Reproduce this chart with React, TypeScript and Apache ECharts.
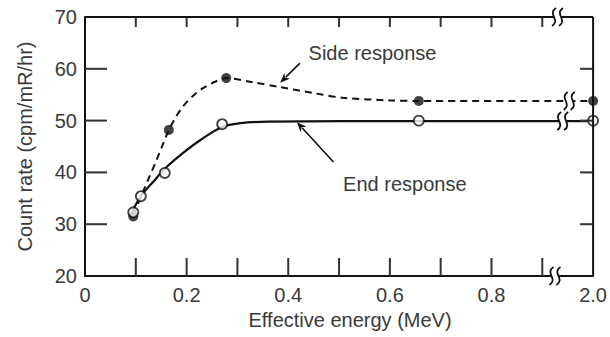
import React, { useEffect, useRef } from 'react';
import * as echarts from 'echarts';

// Measured points (energy in MeV, count rate in cpm/mR/hr)
const sideEnergy = [0.095, 0.165, 0.278, 0.657, 2.0];
const sideRate = [31.5, 48.2, 58.2, 53.8, 53.8];
const endEnergy = [0.095, 0.11, 0.157, 0.27, 0.657, 2.0];
const endRate = [32.3, 35.4, 39.9, 49.3, 50.0, 50.0];

// Hand-drawn curves
const sideCurveEnergy = [0.095, 0.113, 0.126, 0.14, 0.152, 0.165, 0.18, 0.195, 0.214, 0.233, 0.256, 0.278, 0.33, 0.382, 0.45, 0.508, 0.6, 0.657, 2.0];
const sideCurveRate = [31.8, 36.0, 39.0, 42.2, 45.1, 48.2, 50.9, 53.0, 54.9, 56.3, 57.5, 58.2, 57.4, 56.5, 55.3, 54.4, 53.9, 53.8, 53.8];
const endCurveEnergy = [0.09, 0.11, 0.137, 0.158, 0.195, 0.228, 0.271, 0.306, 0.36, 0.657, 2.0];
const endCurveRate = [31.8, 35.4, 38.5, 40.8, 43.9, 46.3, 48.8, 49.5, 49.8, 49.9, 49.9];

const xTickLabels = ['0', '0.2', '0.4', '0.6', '0.8', '2.0'];
const xMinorTicks = [0.1, 0.2, 0.3, 0.4, 0.5, 0.6, 0.7, 0.8, 0.9];
const yTicks = [20, 30, 40, 50, 60, 70];

const seriesNames = ['Side response', 'End response'];
const xTitle = 'Effective energy (MeV)';
const yTitle = 'Count rate (cpm/mR/hr)';

// axis break: everything beyond 1.0 MeV is drawn at the broken end of the axis
const axisPos = (e: number) => (e > 1 ? 1 : e);

const FONT = "'Liberation Sans', Arial, sans-serif";
const TEXT = '#3a3a3a';
const INK = '#111111';
const TICK = '#333333';

export default function App() {
  const ref = useRef<HTMLDivElement>(null);

  useEffect(() => {
    if (!ref.current) return;
    const chart = echarts.init(ref.current, undefined, { renderer: 'svg' });

    const pair = (xs: number[], ys: number[]) => xs.map((x, i) => [axisPos(x), ys[i]]);
    const yMin = yTicks[0];
    const yMax = yTicks[yTicks.length - 1];
    const innerY = yTicks.slice(1, -1);

    // tick data: [x, y, side]; side 0 bottom, 1 top, 2 left, 3 right
    const tickData: number[][] = [];
    xMinorTicks.forEach((t) => {
      tickData.push([t, yMin, 0]);
      tickData.push([t, yMax, 1]);
    });
    innerY.forEach((t) => {
      tickData.push([0, t, 2]);
      tickData.push([1, t, 3]);
    });
    const tickLen = [18, 10, 22, 13];

    chart.setOption({
      animation: false,
      grid: { left: 85, right: 13, top: 17, bottom: 61 },
      xAxis: {
        type: 'value',
        min: 0,
        max: 1,
        interval: 0.2,
        axisLine: { show: true, lineStyle: { color: INK, width: 2 } },
        axisTick: { show: false },
        splitLine: { show: false },
        axisLabel: {
          margin: 9,
          color: TEXT,
          fontFamily: FONT,
          fontSize: 20,
          formatter: (v: number) => xTickLabels[Math.round(v * 5)],
        },
        name: xTitle,
        nameLocation: 'middle',
        nameGap: 33,
        nameTextStyle: { color: TEXT, fontFamily: FONT, fontSize: 20, padding: [0, 0, 0, 22] },
      },
      yAxis: {
        type: 'value',
        min: yMin,
        max: yMax,
        interval: 10,
        axisLine: { show: true, lineStyle: { color: INK, width: 2 } },
        axisTick: { show: false },
        splitLine: { show: false },
        axisLabel: { margin: 8, color: TEXT, fontFamily: FONT, fontSize: 20, padding: [6, 0, 0, 0] },
        name: yTitle,
        nameLocation: 'middle',
        nameGap: 50,
        nameTextStyle: { color: TEXT, fontFamily: FONT, fontSize: 20 },
      },
      series: [
        {
          name: 'ticks',
          type: 'custom',
          data: tickData,
          clip: false,
          silent: true,
          z: 30,
          renderItem: (params: any, api: any) => {
            const x = api.value(0);
            const y = api.value(1);
            const side = api.value(2);
            const p = api.coord([x, y]);
            const L = tickLen[side];
            let x2 = p[0], y2 = p[1];
            if (side === 0) y2 = p[1] - L;
            else if (side === 1) y2 = p[1] + L;
            else if (side === 2) x2 = p[0] + L;
            else x2 = p[0] - L;
            return {
              type: 'line',
              shape: { x1: p[0], y1: p[1], x2, y2 },
              style: { stroke: TICK, lineWidth: 2 },
            };
          },
        },
        {
          name: seriesNames[0] + ' curve',
          type: 'line',
          data: pair(sideCurveEnergy, sideCurveRate),
          smooth: 0.3,
          showSymbol: false,
          symbol: 'none',
          lineStyle: { color: INK, width: 2, type: [7, 5] },
          z: 2,
        },
        {
          name: seriesNames[1] + ' curve',
          type: 'line',
          data: pair(endCurveEnergy, endCurveRate),
          smooth: 0.35,
          showSymbol: false,
          symbol: 'none',
          lineStyle: { color: INK, width: 2.2 },
          z: 2,
        },
        {
          name: seriesNames[0],
          type: 'scatter',
          data: pair(sideEnergy, sideRate),
          symbol: 'circle',
          symbolSize: 10,
          itemStyle: { color: INK },
          z: 4,
        },
        {
          name: seriesNames[1],
          type: 'scatter',
          data: pair(endEnergy, endRate),
          symbol: 'circle',
          symbolSize: 10,
          itemStyle: { color: '#ffffff', borderColor: INK, borderWidth: 1.8 },
          z: 5,
        },
      ],
    });

    const px = (x: number, y: number) => chart.convertToPixel({ gridIndex: 0 }, [x, y]) as number[];
    const g: any[] = [];

    // frame: top and right sides
    const [lx, ty] = px(0, yMax);
    const [rx, by] = px(1, yMin);
    g.push({ type: 'line', shape: { x1: lx, y1: ty, x2: rx, y2: ty }, style: { stroke: INK, lineWidth: 2 }, z: 50 });
    g.push({ type: 'line', shape: { x1: rx, y1: ty, x2: rx, y2: by }, style: { stroke: INK, lineWidth: 2 }, z: 50 });

    // axis-break marks
    const breaks = [
      [0.93, 70],
      [0.925, 20],
      [0.953, 53.8],
      [0.94, 49.9],
    ];
    breaks.forEach(([bx, bY]) => {
      const [cx, cy] = px(bx, bY);
      g.push({ type: 'rect', shape: { x: cx - 3.5, y: cy - 3, width: 7, height: 6 }, style: { fill: '#ffffff' }, z: 60 });
      [-3.5, 3.5].forEach((dx) => {
        const x = cx + dx;
        g.push({
          type: 'bezierCurve',
          shape: { x1: x + 2, y1: cy - 9, cpx1: x - 7, cpy1: cy - 3, cpx2: x + 7, cpy2: cy + 3, x2: x - 2, y2: cy + 9 },
          style: { stroke: INK, lineWidth: 1.8, fill: 'none' },
          z: 61,
        });
      });
    });

    // annotations
    const annotations = [
      { text: seriesNames[0], at: [0.44, 63.1], from: [0.423, 61.1], to: [0.384, 57.3] },
      { text: seriesNames[1], at: [0.508, 37.7], from: [0.489, 42.0], to: [0.417, 49.7] },
    ];
    annotations.forEach((a) => {
      const [tx, tY] = px(a.at[0], a.at[1]);
      g.push({
        type: 'text',
        x: tx,
        y: tY,
        style: { text: a.text, fill: TEXT, font: `20px ${FONT}`, textAlign: 'left', textVerticalAlign: 'middle' },
        z: 50,
      });
      const [x1, y1] = px(a.from[0], a.from[1]);
      const [x2, y2] = px(a.to[0], a.to[1]);
      const dx = x2 - x1, dy = y2 - y1;
      const len = Math.hypot(dx, dy);
      const ux = dx / len, uy = dy / len;
      const hl = 10, hw = 4;
      const bx = x2 - ux * hl, bY = y2 - uy * hl;
      g.push({ type: 'line', shape: { x1, y1, x2: bx + ux * 2, y2: bY + uy * 2 }, style: { stroke: INK, lineWidth: 1.6 }, z: 50 });
      g.push({
        type: 'polygon',
        shape: {
          points: [
            [x2, y2],
            [bx - uy * hw, bY + ux * hw],
            [x2 - ux * hl * 0.7, y2 - uy * hl * 0.7],
            [bx + uy * hw, bY - ux * hw],
          ],
        },
        style: { fill: INK },
        z: 50,
      });
    });

    chart.setOption({ graphic: g });

    return () => chart.dispose();
  }, []);

  return (
    <div
      ref={ref}
      style={{ position: 'fixed', left: 0, top: 0, width: 610, height: 337, background: '#fff' }}
    />
  );
}
